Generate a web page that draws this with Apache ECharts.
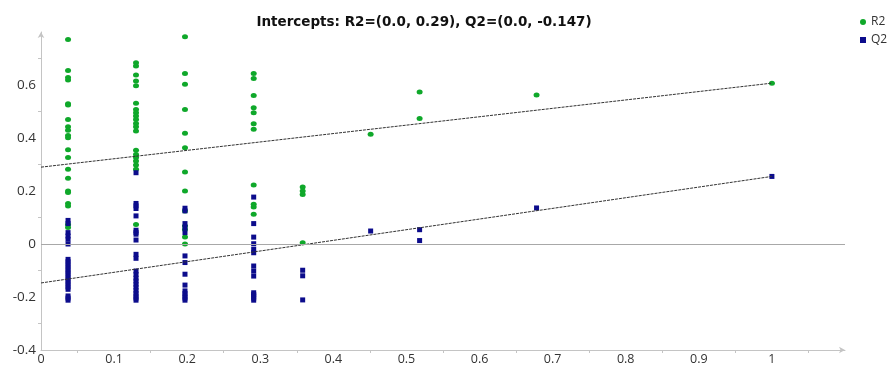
<!DOCTYPE html>
<html>
<head>
<meta charset="utf-8">
<script src="https://cdn.jsdelivr.net/npm/echarts@6/dist/echarts.min.js"></script>
<style>html,body{margin:0;padding:0;background:#fff;}#c{width:891px;height:367px;}</style>
</head>
<body>
<div id="c"></div>
<script>
var titleText = 'Intercepts: R2=(0.0, 0.29), Q2=(0.0, -0.147)';
var seriesNames = ['R2', 'Q2'];
var xTickLabels = ['0','0.1','0.2','0.3','0.4','0.5','0.6','0.7','0.8','0.9','1'];
var yTickLabels = ['-0.4','-0.2','0','0.2','0.4','0.6'];

var r2Points = [
  [0.037,0.772],[0.037,0.655],[0.037,0.628],[0.037,0.619],[0.037,0.529],[0.037,0.525],[0.037,0.47],[0.037,0.442],[0.037,0.429],[0.037,0.409],[0.037,0.401],[0.037,0.356],[0.037,0.326],[0.037,0.282],[0.037,0.248],[0.037,0.2],[0.037,0.194],[0.037,0.153],[0.037,0.143],[0.037,0.074],[0.037,0.062],
  [0.13,0.684],[0.13,0.672],[0.13,0.638],[0.13,0.615],[0.13,0.597],[0.13,0.531],[0.13,0.508],[0.13,0.495],[0.13,0.483],[0.13,0.47],[0.13,0.455],[0.13,0.442],[0.13,0.426],[0.13,0.354],[0.13,0.338],[0.13,0.326],[0.13,0.313],[0.13,0.298],[0.13,0.282],[0.13,0.074],
  [0.197,0.782],[0.197,0.643],[0.197,0.603],[0.197,0.508],[0.197,0.418],[0.197,0.363],[0.197,0.272],[0.197,0.2],[0.197,0.125],[0.197,0.068],[0.197,0.055],[0.197,0.026],[0.197,0.0],
  [0.291,0.643],[0.291,0.625],[0.291,0.56],[0.291,0.514],[0.291,0.495],[0.291,0.454],[0.291,0.433],[0.291,0.223],[0.291,0.15],[0.291,0.14],[0.291,0.112],
  [0.358,0.215],[0.358,0.2],[0.358,0.187],[0.358,0.005],
  [0.451,0.414],
  [0.518,0.574],[0.518,0.474],
  [0.678,0.562],
  [1.0,0.607]
];
var q2Points = [
  [0.037,0.089],[0.037,0.077],[0.037,0.043],[0.037,0.03],[0.037,0.018],[0.037,0.0],[0.037,-0.058],[0.037,-0.067],[0.037,-0.077],[0.037,-0.086],[0.037,-0.096],[0.037,-0.105],[0.037,-0.114],[0.037,-0.124],[0.037,-0.133],[0.037,-0.143],[0.037,-0.152],[0.037,-0.162],[0.037,-0.171],[0.037,-0.196],[0.037,-0.204],[0.037,-0.212],
  [0.13,0.269],[0.13,0.153],[0.13,0.144],[0.13,0.134],[0.13,0.106],[0.13,0.052],[0.13,0.044],[0.13,0.037],[0.13,0.015],[0.13,-0.039],[0.13,-0.054],[0.13,-0.102],[0.13,-0.115],[0.13,-0.129],[0.13,-0.14],[0.13,-0.152],[0.13,-0.163],[0.13,-0.175],[0.13,-0.186],[0.13,-0.196],[0.13,-0.204],[0.13,-0.212],
  [0.197,0.135],[0.197,0.125],[0.197,0.077],[0.197,0.062],[0.197,0.043],[0.197,-0.045],[0.197,-0.07],[0.197,-0.114],[0.197,-0.155],[0.197,-0.177],[0.197,-0.187],[0.197,-0.196],[0.197,-0.204],[0.197,-0.212],
  [0.291,0.177],[0.291,0.077],[0.291,0.026],[0.291,0.001],[0.291,-0.02],[0.291,-0.033],[0.291,-0.083],[0.291,-0.102],[0.291,-0.121],[0.291,-0.184],[0.291,-0.19],[0.291,-0.196],[0.291,-0.204],[0.291,-0.212],
  [0.358,-0.099],[0.358,-0.12],[0.358,-0.211],
  [0.451,0.049],
  [0.518,0.054],[0.518,0.013],
  [0.678,0.136],
  [1.0,0.255]
];
var r2Line = [[0, 0.29],[1, 0.607]];
var q2Line = [[0, -0.147],[1, 0.255]];

var green = '#0fa82a', blue = '#0c0c8c';
var chart = echarts.init(document.getElementById('c'));
var fontFam = '"Open Sans", "Noto Sans", sans-serif';
chart.setOption({
  animation: false,
  backgroundColor: '#fff',
  title: {
    text: titleText, left: 419, top: 10, textAlign: 'center',
    textStyle: {fontFamily: '"DejaVu Sans", sans-serif', fontSize: 13.5, fontWeight: 'bold', color: '#111'}
  },
  legend: {
    orient: 'vertical', left: 855, top: 11, itemGap: 6, itemWidth: 6, itemHeight: 6,
    textStyle: {fontFamily: fontFam, fontSize: 12, color: '#333'},
    data: [
      {name: seriesNames[0], icon: 'circle', itemStyle: {color: green}},
      {name: seriesNames[1], icon: 'rect', itemStyle: {color: blue}}
    ]
  },
  grid: {left: 41, right: 46, top: 32, bottom: 17, containLabel: false},
  xAxis: {
    type: 'value', min: 0, max: 1.1, interval: 0.1,
    axisLine: {onZero: false, lineStyle: {color: '#c4c4c4'}, symbol: ['none','arrow'], symbolSize: [5, 6]},
    axisTick: {show: false},
    minorTick: {show: true, splitNumber: 2, length: 3, lineStyle: {color: '#c4c4c4'}},
    splitLine: {show: false},
    axisLabel: {
      fontFamily: fontFam, fontSize: 12.5, color: '#333', margin: 3,
      formatter: function (v) { var i = Math.round(v * 10); return i < xTickLabels.length ? xTickLabels[i] : ''; }
    }
  },
  yAxis: {
    type: 'value', min: -0.4, max: 0.8, interval: 0.2,
    axisLine: {show: true, onZero: false, lineStyle: {color: '#c4c4c4'}, symbol: ['none','arrow'], symbolSize: [5, 6]},
    axisTick: {show: false},
    minorTick: {show: true, splitNumber: 2, length: 3, lineStyle: {color: '#c4c4c4'}},
    splitLine: {show: false},
    axisLabel: {
      fontFamily: fontFam, fontSize: 13.5, color: '#333', margin: 5,
      formatter: function (v) { var i = Math.round((v + 0.4) * 5); return i < yTickLabels.length ? yTickLabels[i] : ''; }
    }
  },
  series: [
    {
      name: seriesNames[0], type: 'scatter', data: r2Points, symbol: 'circle', symbolSize: [6, 5],
      itemStyle: {color: green, opacity: 1}, z: 3,
      markLine: {
        silent: true, symbol: ['none', 'none'], label: {show: false},
        lineStyle: {color: '#a8a8a8', type: 'solid', width: 1},
        emphasis: {disabled: true},
        data: [{yAxis: 0}]
      }
    },
    {
      name: seriesNames[1], type: 'scatter', data: q2Points, symbol: 'rect', symbolSize: [5, 5],
      itemStyle: {color: blue, opacity: 1}, z: 3
    },
    {
      name: 'r2fit', type: 'line', data: r2Line, symbol: 'none', z: 4,
      lineStyle: {color: '#333', width: 1, type: [3, 1]}
    },
    {
      name: 'q2fit', type: 'line', data: q2Line, symbol: 'none', z: 4,
      lineStyle: {color: '#333', width: 1, type: [3, 1]}
    }
  ]
});
</script>
</body>
</html>
